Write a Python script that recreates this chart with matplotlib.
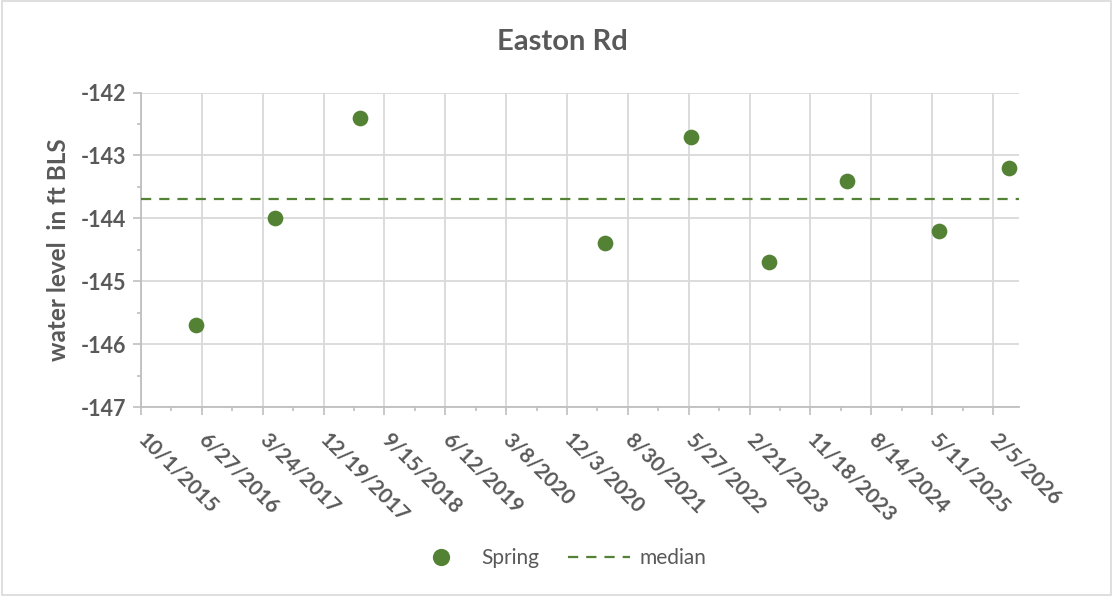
import datetime as dt

import numpy as np
import matplotlib
matplotlib.use('Agg')
import matplotlib.pyplot as plt
import matplotlib.dates as mdates
from matplotlib.ticker import MultipleLocator, FixedLocator, FuncFormatter
from matplotlib.patches import Rectangle

# spring water level readings (ft below land surface, plotted negative)
dates = ['2016-06-02', '2017-05-19', '2018-05-30', '2021-05-19', '2022-06-06',
         '2023-05-17', '2024-04-27', '2025-06-12', '2026-04-16']
levels = [-145.7, -144.0, -142.4, -144.4, -142.7, -144.7, -143.4, -144.2, -143.2]
median_level = -143.7

# excel-style date axis: start 10/1/2015, major unit 270 days
axis_start = dt.date(2015, 10, 1)
major_days = 270
n_major = 15
axis_span_days = 3895

title = 'Easton Rd'
ylabel = 'water level  in ft BLS'

TEXT = '#595959'
GREEN = '#548235'
GRID = '#d9d9d9'
AXIS = '#bfbfbf'

plt.rcParams['font.family'] = ['Lato', 'DejaVu Sans']

fig = plt.figure(figsize=(11.13, 5.96), dpi=100)
ax = fig.add_axes([141 / 1113, 1 - 407 / 596, 878 / 1113, 314.5 / 596])

x = [mdates.date2num(dt.date.fromisoformat(d)) for d in dates]
x0 = mdates.date2num(axis_start)

ax.axhline(median_level, color=GREEN, lw=1.6, dashes=(4.6, 3.6), zorder=3, label='median')
ax.plot(x, levels, 'o', color=GREEN, ms=11.3, mec='none', zorder=4, label='Spring')

ax.set_xlim(x0, x0 + axis_span_days)
ax.set_ylim(-147, -142)

majors = [x0 + k * major_days for k in range(n_major)]
minors = [x0 + k * major_days + major_days / 2 for k in range(n_major - 1)]
ax.xaxis.set_major_locator(FixedLocator(majors))
ax.xaxis.set_minor_locator(FixedLocator(minors))


def fmt_date(v, pos):
    d = mdates.num2date(v)
    return f'{d.month}/{d.day}/{d.year}'


ax.xaxis.set_major_formatter(FuncFormatter(fmt_date))
ax.yaxis.set_major_locator(MultipleLocator(1))
ax.yaxis.set_minor_locator(MultipleLocator(0.5))
ax.yaxis.set_major_formatter(FuncFormatter(lambda v, p: f'{v:.0f}'))

ax.grid(True, which='major', color=GRID, lw=1.3)
ax.set_axisbelow(True)
for s in ['top', 'right']:
    ax.spines[s].set_visible(False)
for s in ['left', 'bottom']:
    ax.spines[s].set_color(AXIS)
    ax.spines[s].set_linewidth(1.3)

ax.tick_params(which='major', length=5.5, width=1.2, color=AXIS)
ax.tick_params(which='minor', length=3, width=1.2, color=AXIS)
ax.tick_params(axis='y', labelsize=15.5, labelcolor=TEXT, pad=5)
ax.tick_params(axis='x', labelsize=15, labelcolor=TEXT, pad=16)
for lab in ax.get_yticklabels():
    lab.set_fontweight('bold')
for lab in ax.get_xticklabels():
    lab.set_fontweight('bold')
    lab.set_rotation(-45)
    lab.set_ha('left')
    lab.set_va('center')
    lab.set_rotation_mode('anchor')

ax.set_ylabel(ylabel, fontsize=17.5, fontweight='bold', color=TEXT, labelpad=8)
fig.text(562 / 1113, 1 - 50 / 596, title, ha='center', va='baseline', fontsize=21,
         fontweight='bold', color=TEXT)

handles, labels = ax.get_legend_handles_labels()
leg = fig.legend(handles[::-1], labels[::-1], loc='center', bbox_to_anchor=(558 / 1113, 1 - 558 / 596),
                 ncol=2, frameon=False, fontsize=15, handlelength=3.0, columnspacing=1.35,
                 handletextpad=0.45, markerscale=1.1)
for t in leg.get_texts():
    t.set_color(TEXT)

# chart-area border
fig.patches.append(Rectangle((0.0015, 0.002), 0.997, 0.996, transform=fig.transFigure,
                             fill=False, edgecolor=GRID, lw=1.2))

fig.savefig('out.png', dpi=100)
